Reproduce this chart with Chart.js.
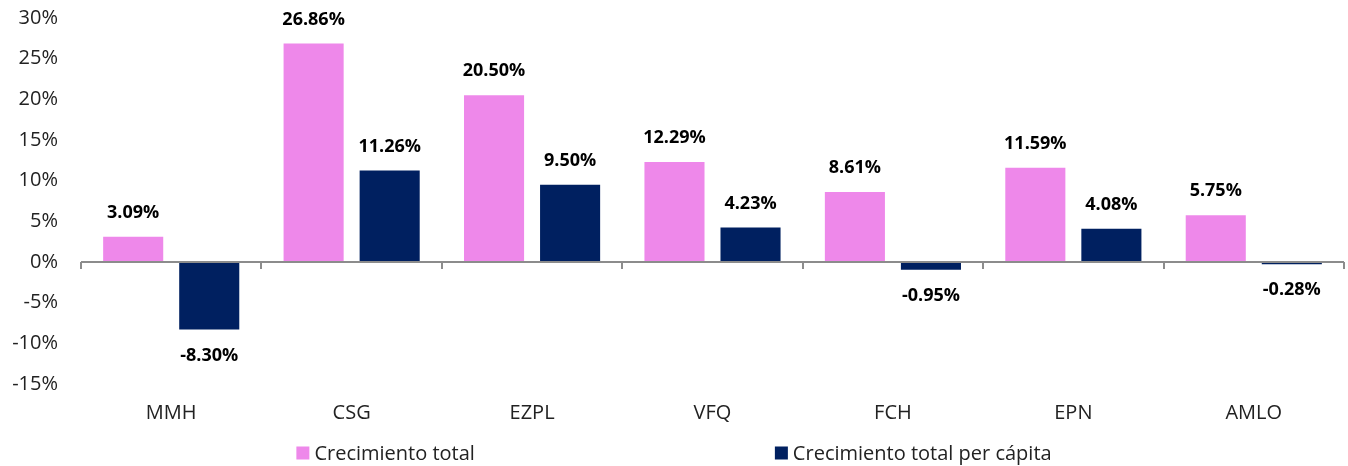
<!DOCTYPE html>
<html>
<head>
<meta charset="utf-8">
<script src="https://cdn.jsdelivr.net/npm/chart.js@4"></script>
<style>
  html, body { margin: 0; padding: 0; background: #fff; }
  #wrap { width: 1348px; height: 466px; }
</style>
</head>
<body>
<div id="wrap"><canvas id="myChart"></canvas></div>
<script>
// chart data
const categories = ['MMH', 'CSG', 'EZPL', 'VFQ', 'FCH', 'EPN', 'AMLO'];
const totalGrowth = [3.09, 26.86, 20.50, 12.29, 8.61, 11.59, 5.75];
const perCapitaGrowth = [-8.30, 11.26, 9.50, 4.23, -0.95, 4.08, -0.28];
const seriesNames = ['Crecimiento total', 'Crecimiento total per cápita'];
const yTicks = { min: -15, max: 30, step: 5 };

const FONT = "'Open Sans', 'Segoe UI', sans-serif";

// zero line with tick marks between categories
const zeroAxis = {
    id: 'zeroAxis',
    afterDatasetsDraw(chart) {
        const { ctx, chartArea, scales } = chart;
        const y0 = scales.y.getPixelForValue(0);
        const step = (chartArea.right - chartArea.left) / categories.length;
        ctx.save();
        ctx.strokeStyle = '#8c8c8c';
        ctx.lineWidth = 2;
        ctx.beginPath();
        ctx.moveTo(chartArea.left, y0);
        ctx.lineTo(chartArea.right, y0);
        for (let i = 0; i <= categories.length; i++) {
            const x = Math.round(chartArea.left + i * step);
            ctx.moveTo(x, y0);
            ctx.lineTo(x, y0 + 7);
        }
        ctx.stroke();
        ctx.restore();
    }
};

// value labels above / below bars
const valueLabels = {
    id: 'valueLabels',
    afterDatasetsDraw(chart) {
        const { ctx } = chart;
        ctx.save();
        ctx.font = 'bold 18px ' + FONT;
        ctx.fillStyle = '#000';
        ctx.textAlign = 'center';
        ctx.textBaseline = 'middle';
        chart.data.datasets.forEach((ds, di) => {
            chart.getDatasetMeta(di).data.forEach((bar, i) => {
                const v = ds.data[i];
                const y = v >= 0 ? bar.y - 24 : bar.y + 26;
                ctx.fillText(v.toFixed(2) + '%', bar.x, y);
            });
        });
        ctx.restore();
    }
};

// legend with a wide gap between the two items
const wideLegend = {
    id: 'wideLegend',
    afterDraw(chart) {
        const { ctx } = chart;
        const box = 13, gapText = 5, gapItems = 300;
        ctx.save();
        ctx.font = '20px ' + FONT;
        ctx.textBaseline = 'middle';
        const widths = chart.data.datasets.map(ds => ctx.measureText(ds.label).width);
        const total = widths.reduce((a, w) => a + box + gapText + w, 0) + gapItems * (widths.length - 1);
        let x = chart.width / 2 - total / 2;
        const yc = 453;
        chart.data.datasets.forEach((ds, i) => {
            ctx.fillStyle = ds.backgroundColor;
            ctx.fillRect(x, yc - box / 2, box, box);
            x += box + gapText;
            ctx.fillStyle = '#222';
            ctx.fillText(ds.label, x, yc + 1);
            x += widths[i] + gapItems;
        });
        ctx.restore();
    }
};

const ctx = document.getElementById('myChart').getContext('2d');
new Chart(ctx, {
    type: 'bar',
    data: {
        labels: categories,
        datasets: [
            { label: seriesNames[0], data: totalGrowth, backgroundColor: '#EE88EA' },
            { label: seriesNames[1], data: perCapitaGrowth, backgroundColor: '#002060' }
        ]
    },
    options: {
        responsive: true,
        maintainAspectRatio: false,
        animation: false,
        categoryPercentage: 0.843,
        barPercentage: 0.79,
        layout: { padding: { top: 18, right: 4, bottom: 30, left: 0 } },
        scales: {
            x: {
                grid: { display: false, drawTicks: false },
                border: { display: false },
                ticks: { color: '#222', font: { family: FONT, size: 20 }, padding: 17 },
                afterFit(s) { s.height = 52; }
            },
            y: {
                min: yTicks.min,
                max: yTicks.max,
                grid: { display: false, drawTicks: false },
                border: { display: false },
                ticks: {
                    stepSize: yTicks.step,
                    color: '#222',
                    font: { family: FONT, size: 20 },
                    padding: 23,
                    callback: v => v + '%'
                },
                afterFit(s) { s.width = 81; s.paddingTop = 0; s.paddingBottom = 0; }
            }
        },
        plugins: {
            legend: { display: false },
            tooltip: { enabled: false }
        }
    },
    plugins: [zeroAxis, valueLabels, wideLegend]
});
</script>
</body>
</html>
